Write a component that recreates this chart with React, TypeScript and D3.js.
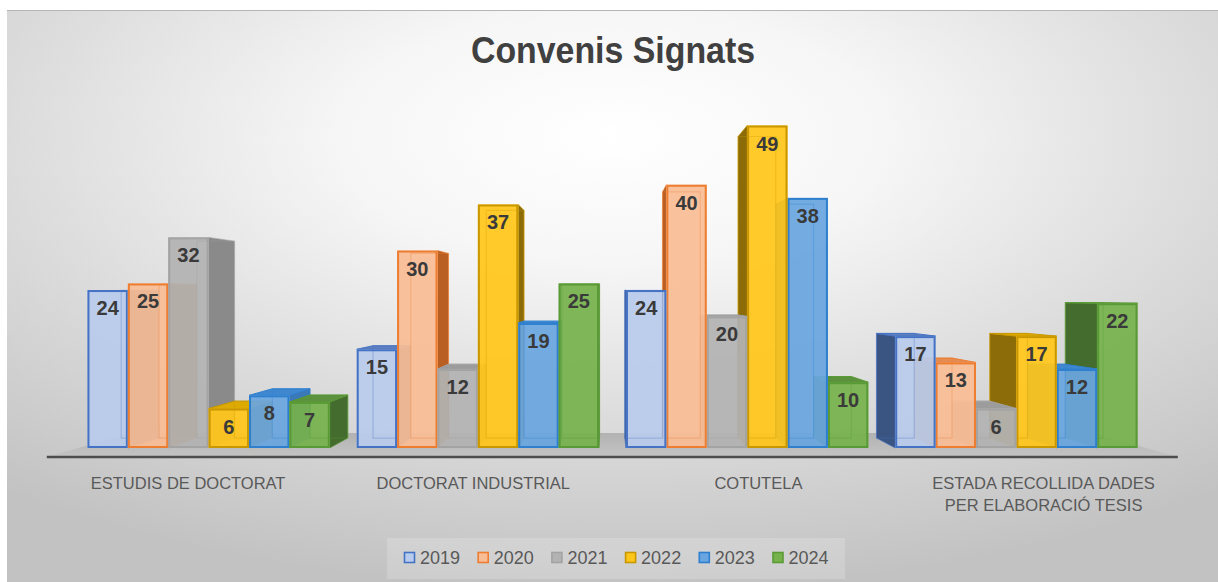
import * as d3 from "d3";

const categories = [
  "ESTUDIS DE DOCTORAT",
  "DOCTORAT INDUSTRIAL",
  "COTUTELA",
  "ESTADA RECOLLIDA DADES PER ELABORACIÓ TESIS",
];
const years = ["2019", "2020", "2021", "2022", "2023", "2024"];
const s2019 = [24, 15, 24, 17];
const s2020 = [25, 30, 40, 13];
const s2021 = [32, 12, 20, 6];
const s2022 = [6, 37, 49, 17];
const s2023 = [8, 19, 38, 12];
const s2024 = [7, 25, 10, 22];
const series = [s2019, s2020, s2021, s2022, s2023, s2024];

// face colours per year: front fill, outline, side face, top face
const palette = [
  { front: "#b9cbec", stroke: "#4472c4", side: "#3b5583", top: "#5f7fbf" },
  { front: "#f9bd96", stroke: "#ed7d31", side: "#b95f24", top: "#e48c52" },
  { front: "#b3b3b3", stroke: "#a3a3a3", side: "#8a8a8a", top: "#9c9c9c" },
  { front: "#ffc61a", stroke: "#c99700", side: "#8c6c08", top: "#dcaa00" },
  { front: "#69a6e0", stroke: "#2f7fcf", side: "#3a78b8", top: "#3f88d0" },
  { front: "#76b24c", stroke: "#5a9a36", side: "#446c2e", top: "#5c913d" },
];

const W = 1218;
const H = 582;
const vp = { x: 607, y: 295 }; // vanishing point
const backS = 0.935; // depth of the bars
const floorFrontS = 1.059;
const floorBackS = 0.902;

const proj = (x: number, y: number, s: number) => [
  vp.x + (x - vp.x) * s,
  vp.y + (y - vp.y) * s,
];
const pts = (arr: number[][]) => arr.map((p) => p.join(",")).join(" ");

function wrap(text: string, max: number) {
  const lines: string[] = [];
  let cur = "";
  text.split(" ").forEach((w) => {
    const next = cur ? cur + " " + w : w;
    if (next.length > max && cur) {
      lines.push(cur);
      cur = w;
    } else cur = next;
  });
  if (cur) lines.push(cur);
  return lines;
}

export default function App() {
  const x = d3
    .scaleBand<string>()
    .domain(categories)
    .range([74, 1151])
    .paddingInner(0.1)
    .paddingOuter(0.05);
  const xi = d3.scaleBand<string>().domain(years).range([0, x.bandwidth()]);
  const y = d3.scaleLinear().domain([0, 49]).range([448, 125.5]);

  const bars: any[] = [];
  categories.forEach((c, ci) => {
    years.forEach((yr, si) => {
      const x0 = x(c)! + xi(yr)!;
      const x1 = x0 + xi.bandwidth();
      const v = series[si][ci];
      bars.push({ x0, x1, y0: y(0), y1: y(v), v, si, key: c + yr });
    });
  });
  // paint the bars farthest from the vanishing point first
  bars.sort(
    (a, b) =>
      Math.abs(b.x0 + b.x1 - 2 * vp.x) - Math.abs(a.x0 + a.x1 - 2 * vp.x)
  );

  const [fl, fr] = [x.range()[0] + 4, x.range()[1] - 5];
  const floor = [
    proj(fl, y(0), floorFrontS),
    proj(fr, y(0), floorFrontS),
    proj(fr, y(0), floorBackS),
    proj(fl, y(0), floorBackS),
  ];

  const legendX = 404;
  const legendStep = 73.7;

  return (
    <div style={{ position: "absolute", left: 0, top: 0 }}>
      <svg width={W} height={H} style={{ display: "block" }}>
        <defs>
          <radialGradient id="bg" cx="0.5" cy="0.22" r="0.8">
            <stop offset="0" stopColor="#ffffff" />
            <stop offset="0.28" stopColor="#f6f6f6" />
            <stop offset="0.62" stopColor="#dcdcdc" />
            <stop offset="1" stopColor="#c2c2c2" />
          </radialGradient>
          <linearGradient id="floor" x1="0" y1="0" x2="0" y2="1">
            <stop offset="0" stopColor="#b2b2b2" />
            <stop offset="1" stopColor="#c4c4c4" />
          </linearGradient>
        </defs>
        <rect x={0} y={0} width={W} height={H} fill="#ffffff" />
        <rect x={7} y={10} width={W - 7} height={H - 10} fill="url(#bg)" />
        <line x1={7} x2={W} y1={10.5} y2={10.5} stroke="#b5b5b5" strokeWidth={1} />

        <text
          x={613}
          y={63}
          textAnchor="middle"
          fontFamily="'Liberation Sans Narrow', 'Liberation Sans', Arial, sans-serif"
          fontWeight="bold"
          fontSize={36}
          fill="#404040"
          textLength={284}
          lengthAdjust="spacingAndGlyphs"
        >
          Convenis Signats
        </text>

        <polygon points={pts(floor)} fill="url(#floor)" />
        <line
          x1={floor[0][0]}
          y1={floor[0][1]}
          x2={floor[1][0]}
          y2={floor[1][1]}
          stroke="#4d4d4d"
          strokeWidth={2.5}
        />

        {bars.map((b) => {
          const p = palette[b.si];
          const { x0, x1, y0, y1 } = b;
          let side: number[][] | null = null;
          if (x1 < vp.x) {
            side = [proj(x1, y1, 1), proj(x1, y1, backS), proj(x1, y0, backS), proj(x1, y0, 1)];
          } else if (x0 > vp.x) {
            side = [proj(x0, y1, 1), proj(x0, y1, backS), proj(x0, y0, backS), proj(x0, y0, 1)];
          }
          const top =
            y1 > vp.y
              ? [proj(x0, y1, 1), proj(x1, y1, 1), proj(x1, y1, backS), proj(x0, y1, backS)]
              : null;
          const back = [
            proj(x0, y1, backS),
            proj(x1, y1, backS),
            proj(x1, y0, backS),
            proj(x0, y0, backS),
          ];
          return (
            <g key={b.key}>
              {side && (
                <polygon points={pts(side)} fill={p.side} stroke={p.stroke} strokeWidth={1} strokeOpacity={0.6} />
              )}
              {top && (
                <polygon points={pts(top)} fill={p.top} stroke={p.stroke} strokeWidth={1} />
              )}
              <rect x={x0} y={y1} width={x1 - x0} height={y0 - y1} fill={p.front} fillOpacity={0.93} />
              <polygon points={pts(back)} fill="none" stroke={p.stroke} strokeOpacity={0.3} strokeWidth={1.2} />
              <rect
                x={x0 + 1}
                y={y1 + 1}
                width={x1 - x0 - 2}
                height={y0 - y1 - 2}
                fill="none"
                stroke={p.stroke}
                strokeWidth={2}
              />
              <text
                x={(x0 + x1) / 2}
                y={y1 + 18}
                dy="0.35em"
                textAnchor="middle"
                fontFamily="'Liberation Sans', Arial, sans-serif"
                fontWeight="bold"
                fontSize={20}
                fill="#3a3a3a"
              >
                {b.v}
              </text>
            </g>
          );
        })}

        {categories.map((c) => {
          const cx = proj(x(c)! + x.bandwidth() / 2, y(0), floorFrontS)[0] + 3;
          return (
            <text
              key={c}
              x={cx}
              y={489}
              textAnchor="middle"
              fontFamily="'Liberation Sans', Arial, sans-serif"
              fontSize={16.5}
              fill="#595959"
            >
              {wrap(c, 22).map((line, i) => (
                <tspan key={i} x={cx} dy={i === 0 ? 0 : 22}>
                  {line}
                </tspan>
              ))}
            </text>
          );
        })}

        <rect x={387} y={538} width={458} height={41} fill="#ffffff" fillOpacity={0.18} />
        {years.map((yr, i) => {
          const lx = legendX + i * legendStep;
          const p = palette[i];
          return (
            <g key={yr}>
              <rect x={lx + 0.5} y={552.5} width={10} height={10} fill={p.front} stroke={p.stroke} strokeWidth={1.6} />
              <text
                x={lx + 16}
                y={564}
                fontFamily="'Liberation Sans', Arial, sans-serif"
                fontSize={18}
                fill="#595959"
              >
                {yr}
              </text>
            </g>
          );
        })}
      </svg>
    </div>
  );
}
